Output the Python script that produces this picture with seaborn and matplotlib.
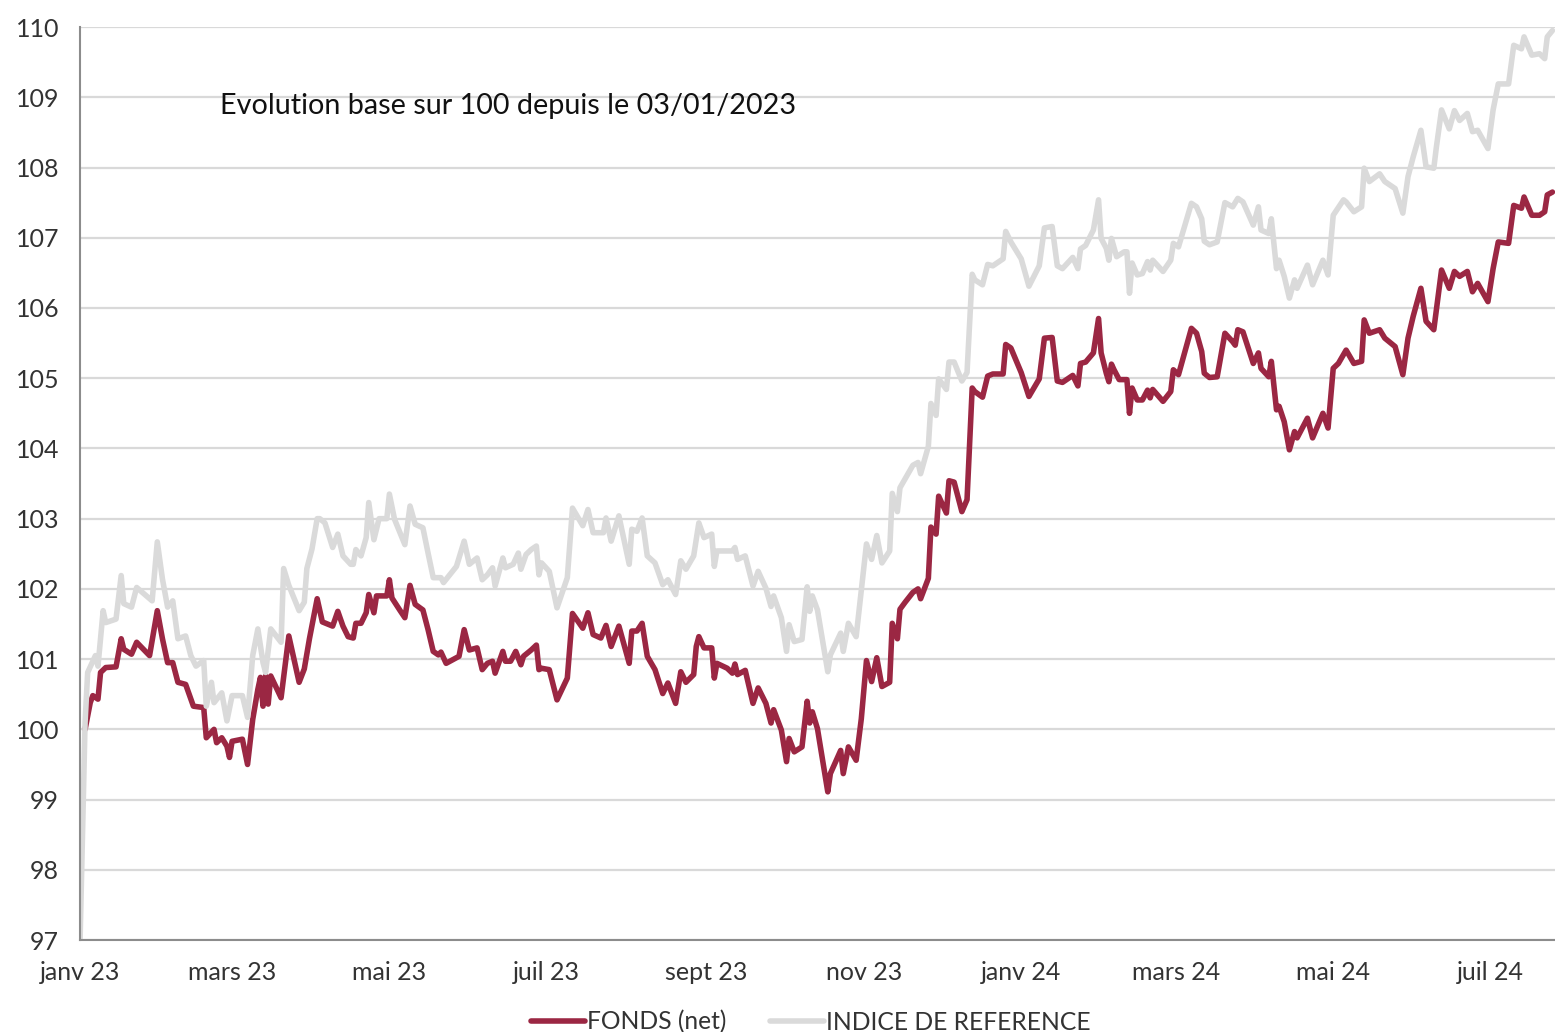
import numpy as np
import pandas as pd
import matplotlib
matplotlib.use("Agg")
import matplotlib.pyplot as plt
import seaborn as sns

# ---------------- data (days since 2023-01-01) ----------------
fund_days = [2, 4, 5, 7, 8, 10, 14, 16, 17, 20, 22, 27, 30, 32, 34, 36, 38, 41, 44, 48, 49, 52, 53, 55, 57, 58,
             59, 63, 65, 67, 69, 70, 71, 72, 73, 74, 78, 81, 85, 87, 89, 92, 94, 98, 100, 102, 104, 106, 107, 109,
             111, 112, 114, 115, 119, 120, 121, 124, 126, 128, 130, 133, 135, 137, 139, 140, 142, 147, 149, 151,
             154, 156, 158, 160, 161, 164, 165, 167, 169, 171, 172, 175, 177, 178, 179, 182, 185, 189, 191, 195,
             197, 199, 202, 204, 206, 209, 213, 214, 216, 218, 220, 223, 226, 228, 231, 233, 235, 238, 239, 240,
             242, 245, 246, 247, 251, 253, 254, 255, 258, 261, 263, 266, 268, 269, 272, 274, 275, 277, 280, 282,
             283, 284, 286, 290, 291, 295, 296, 298, 301, 303, 305, 307, 309, 311, 314, 315, 317, 318, 320, 323,
             325, 326, 329, 330, 332, 333, 336, 337, 339, 342, 344, 346, 347, 350, 352, 354, 358, 359, 361, 365,
             368, 372, 374, 377, 379, 381, 385, 387, 388, 390, 393, 395, 396, 398, 399, 400, 401, 403, 406, 407,
             408, 410, 412, 414, 415, 416, 420, 423, 424, 426, 431, 433, 435, 436, 438, 441, 444, 447, 448, 449,
             451, 455, 457, 458, 461, 462, 464, 465, 467, 469, 471, 472, 476, 478, 482, 484, 486, 488, 491, 494,
             497, 498, 500, 504, 506, 510, 513, 515, 517, 520, 522, 525, 526, 528, 531, 533, 535, 538, 540, 542,
             546, 548, 550, 554, 556, 559, 560, 563, 566, 568, 569, 571]
fund_values = [100.0, 100.38, 100.48, 100.43, 100.81, 100.88, 100.89, 101.29, 101.14, 101.07, 101.24, 101.05,
               101.69, 101.29, 100.95, 100.95, 100.67, 100.64, 100.33, 100.31, 99.88, 100.0, 99.81, 99.88, 99.76,
               99.6, 99.83, 99.86, 99.5, 100.14, 100.57, 100.74, 100.33, 100.76, 100.36, 100.76, 100.45, 101.33,
               100.67, 100.86, 101.29, 101.86, 101.53, 101.47, 101.68, 101.47, 101.32, 101.3, 101.51, 101.51,
               101.66, 101.92, 101.66, 101.9, 101.9, 102.13, 101.87, 101.7, 101.59, 102.05, 101.78, 101.7, 101.42,
               101.11, 101.06, 101.1, 100.94, 101.04, 101.42, 101.13, 101.16, 100.85, 100.94, 100.97, 100.8,
               101.11, 100.97, 100.97, 101.11, 100.92, 101.04, 101.13, 101.2, 100.85, 100.87, 100.85, 100.42,
               100.73, 101.65, 101.44, 101.66, 101.35, 101.3, 101.48, 101.18, 101.47, 100.94, 101.4, 101.4,
               101.51, 101.04, 100.85, 100.51, 100.66, 100.37, 100.82, 100.67, 100.78, 101.18, 101.32, 101.16,
               101.16, 100.73, 100.94, 100.87, 100.8, 100.93, 100.78, 100.84, 100.37, 100.59, 100.37, 100.09,
               100.28, 99.99, 99.54, 99.87, 99.68, 99.75, 100.4, 100.09, 100.25, 100.01, 99.11, 99.37, 99.7, 99.37,
               99.75, 99.56, 100.15, 100.98, 100.68, 101.02, 100.61, 100.67, 101.51, 101.29, 101.71, 101.81,
               101.95, 102.0, 101.86, 102.15, 102.88, 102.78, 103.32, 103.08, 103.54, 103.52, 103.1, 103.27,
               104.86, 104.81, 104.73, 105.03, 105.06, 105.06, 105.48, 105.43, 105.08, 104.74, 104.99, 105.57,
               105.58, 104.96, 104.94, 105.04, 104.89, 105.21, 105.23, 105.36, 105.85, 105.36, 105.07, 104.95,
               105.2, 105.12, 104.98, 104.98, 104.5, 104.86, 104.69, 104.69, 104.83, 104.72, 104.84, 104.67,
               104.81, 105.12, 105.05, 105.71, 105.64, 105.38, 105.07, 105.01, 105.02, 105.64, 105.52, 105.47,
               105.69, 105.66, 105.21, 105.36, 105.14, 105.02, 105.24, 104.55, 104.6, 104.38, 103.98, 104.24,
               104.15, 104.43, 104.15, 104.5, 104.29, 105.14, 105.21, 105.4, 105.21, 105.24, 105.83, 105.64,
               105.69, 105.57, 105.45, 105.05, 105.57, 105.88, 106.28, 105.81, 105.69, 105.97, 106.54, 106.28,
               106.52, 106.45, 106.52, 106.23, 106.35, 106.09, 106.56, 106.94, 106.92, 107.46, 107.42, 107.58,
               107.32, 107.32, 107.37, 107.61, 107.65]

index_days = [0, 2, 3, 6, 7, 9, 10, 14, 16, 17, 20, 22, 28, 30, 32, 34, 36, 38, 41, 43, 45, 48, 49, 51, 52, 55,
              57, 59, 63, 65, 67, 69, 71, 72, 74, 78, 79, 81, 85, 87, 88, 90, 92, 93, 95, 98, 100, 102, 105, 106,
              107, 109, 111, 112, 114, 116, 119, 120, 122, 126, 128, 130, 133, 135, 137, 140, 141, 146, 149, 151,
              154, 156, 158, 160, 161, 164, 165, 168, 170, 171, 173, 175, 177, 178, 179, 182, 185, 189, 191, 195,
              197, 199, 203, 204, 206, 209, 213, 214, 216, 218, 220, 223, 226, 228, 231, 233, 235, 238, 240, 242,
              245, 246, 247, 253, 254, 255, 258, 261, 263, 266, 268, 269, 272, 274, 275, 277, 280, 282, 283, 284,
              286, 290, 291, 295, 296, 298, 301, 305, 307, 309, 311, 314, 315, 317, 318, 323, 325, 326, 329, 330,
              332, 333, 336, 337, 339, 342, 344, 346, 347, 350, 352, 354, 358, 359, 361, 365, 368, 372, 374, 377,
              379, 381, 385, 387, 388, 390, 393, 395, 396, 398, 399, 400, 402, 405, 406, 407, 408, 410, 412, 414,
              415, 416, 420, 423, 424, 426, 431, 433, 435, 436, 438, 441, 444, 447, 449, 451, 455, 457, 458, 461,
              462, 464, 465, 467, 469, 471, 472, 476, 478, 482, 484, 486, 490, 491, 494, 497, 498, 500, 504, 506,
              510, 513, 515, 517, 520, 522, 525, 526, 528, 531, 533, 535, 538, 540, 542, 546, 548, 550, 554, 556,
              559, 560, 563, 566, 568, 569, 571]
index_values = [96.9, 100.1, 100.81, 101.05, 100.9, 101.69, 101.52, 101.57, 102.19, 101.79, 101.74, 102.02,
                101.83, 102.67, 102.14, 101.74, 101.83, 101.29, 101.33, 101.05, 100.9, 100.98, 100.33, 100.67,
                100.38, 100.52, 100.12, 100.48, 100.48, 100.17, 101.05, 101.43, 100.95, 100.81, 101.43, 101.24,
                102.29, 102.05, 101.69, 101.81, 102.29, 102.57, 103.0, 103.0, 102.94, 102.59, 102.78, 102.47,
                102.35, 102.35, 102.56, 102.47, 102.73, 103.23, 102.7, 103.0, 103.0, 103.35, 102.99, 102.63,
                103.18, 102.92, 102.87, 102.51, 102.16, 102.16, 102.09, 102.32, 102.68, 102.35, 102.44, 102.13,
                102.2, 102.3, 102.04, 102.44, 102.3, 102.35, 102.51, 102.28, 102.49, 102.56, 102.61, 102.2,
                102.37, 102.25, 101.73, 102.16, 103.15, 102.9, 103.13, 102.8, 102.8, 103.01, 102.68, 103.04,
                102.35, 102.85, 102.82, 103.01, 102.47, 102.37, 102.06, 102.13, 101.92, 102.4, 102.28, 102.47,
                102.94, 102.73, 102.78, 102.32, 102.54, 102.54, 102.59, 102.42, 102.47, 102.04, 102.25, 102.01,
                101.75, 101.9, 101.59, 101.11, 101.49, 101.25, 101.28, 102.03, 101.68, 101.9, 101.7, 100.82,
                101.06, 101.37, 101.11, 101.51, 101.32, 102.64, 102.42, 102.76, 102.37, 102.54, 103.36, 103.1,
                103.44, 103.76, 103.8, 103.64, 104.03, 104.64, 104.47, 104.99, 104.84, 105.23, 105.23, 104.96,
                105.08, 106.48, 106.4, 106.33, 106.62, 106.6, 106.7, 107.09, 106.94, 106.7, 106.31, 106.6,
                107.14, 107.16, 106.6, 106.56, 106.72, 106.56, 106.84, 106.89, 107.11, 107.54, 106.99, 106.85,
                106.68, 106.99, 106.73, 106.8, 106.8, 106.21, 106.64, 106.47, 106.49, 106.66, 106.54, 106.68,
                106.52, 106.68, 106.92, 106.87, 107.49, 107.44, 107.27, 106.95, 106.9, 106.94, 107.5, 107.44,
                107.56, 107.51, 107.18, 107.44, 107.11, 107.06, 107.27, 106.56, 106.68, 106.45, 106.14, 106.4,
                106.28, 106.61, 106.33, 106.68, 106.47, 107.32, 107.54, 107.51, 107.37, 107.44, 107.99, 107.8,
                107.91, 107.8, 107.7, 107.35, 107.87, 108.15, 108.53, 108.01, 107.99, 108.29, 108.82, 108.55,
                108.81, 108.67, 108.77, 108.51, 108.53, 108.27, 108.82, 109.19, 109.19, 109.74, 109.69, 109.86,
                109.6, 109.62, 109.55, 109.86, 109.95]

series_names = ["FONDS (net)", "INDICE DE REFERENCE"]
series_colors = ["#9B2743", "#DADADA"]
month_labels = ["janv 23", "mars 23", "mai 23", "juil 23", "sept 23", "nov 23",
                "janv 24", "mars 24", "mai 24", "juil 24"]
y_ticks = list(range(97, 111))
title_text = "Evolution base sur 100 depuis le 03/01/2023"

# ---------------- build table ----------------
start = pd.Timestamp("2023-01-01")
df = pd.concat([
    pd.DataFrame({"date": start + pd.to_timedelta(fund_days, unit="D"),
                  "valeur": fund_values, "serie": series_names[0]}),
    pd.DataFrame({"date": start + pd.to_timedelta(index_days, unit="D"),
                  "valeur": index_values, "serie": series_names[1]}),
], ignore_index=True)

sns.set_style("white")
plt.rcParams["font.family"] = ["Lato", "DejaVu Sans"]

fig = plt.figure(figsize=(15.55, 10.32), dpi=100)
ax = fig.add_axes([0.0514, 0.0891, 0.9486, 0.8847])

sns.lineplot(data=df, x="date", y="valeur", hue="serie", hue_order=series_names,
             palette=series_colors, linewidth=4.0, estimator=None, sort=True, ax=ax,
             legend=True)

ax.set_ylim(97, 110)
ax.set_xlim(start, start + pd.Timedelta(days=572))
ax.set_yticks(y_ticks)
ax.set_yticklabels([str(v) for v in y_ticks], fontsize=18, color="#333333")
xt = pd.date_range("2023-01-01", "2024-07-01", freq="2MS")
ax.set_xticks(xt)
ax.set_xticklabels(month_labels, fontsize=18, color="#333333")
ax.set_xlabel("")
ax.set_ylabel("")

ax.grid(axis="y", color="#D9D9D9", linewidth=1.6)
ax.set_axisbelow(True)
for s in ["top", "right"]:
    ax.spines[s].set_visible(False)
for s in ["left", "bottom"]:
    ax.spines[s].set_color("#8C8C8C")
    ax.spines[s].set_linewidth(1.5)
ax.tick_params(axis="y", which="major", direction="out", length=6, width=1.5,
               color="#8C8C8C", pad=9)
ax.tick_params(axis="x", which="major", direction="out", length=6, width=1.5,
               color="#8C8C8C", pad=9)

ax.text(0.095, 0.913, title_text, transform=ax.transAxes, fontsize=20.7,
        color="#111111", ha="left", va="center")

handles, labels = ax.get_legend_handles_labels()
ax.get_legend().remove()
fig.legend(handles, labels, loc="center", bbox_to_anchor=(0.5215, 0.0096), ncol=2,
           frameon=False, handlelength=2.2, handletextpad=0.1,
           columnspacing=1.75, labelcolor="#333333", prop={"size": 17.7})

fig.savefig("out.png", dpi=100)
